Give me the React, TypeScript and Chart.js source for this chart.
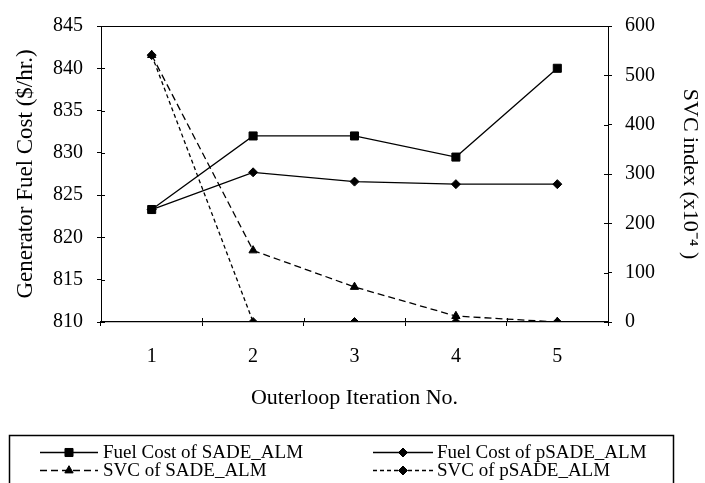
import React, { useEffect, useRef } from "react";
import { Chart, registerables } from "chart.js";

Chart.register(...registerables);

const iterations = ["1", "2", "3", "4", "5"];
const fuelCostSADE = [823.3, 832.0, 832.0, 829.5, 840.0];
const fuelCostPSADE = [823.3, 827.7, 826.6, 826.3, 826.3];
const svcSADE = [541, 145, 71, 12, 0];
const svcPSADE = [541, 0, 0, 0, 0];
const seriesNames = [
  "Fuel Cost of SADE_ALM",
  "Fuel Cost of pSADE_ALM",
  "SVC of SADE_ALM",
  "SVC of pSADE_ALM",
];
const leftTitle = "Generator Fuel Cost ($/hr.)";
const rightTitle = "SVC index (x10\u207B\u2074 )";
const xTitle = "Outerloop Iteration No.";

const SERIF = "'Liberation Serif', 'Times New Roman', serif";
const BLACK = "#000";

function drawMarker(ctx: CanvasRenderingContext2D, style: string, x: number, y: number, r: number) {
  ctx.beginPath();
  if (style === "rect") {
    const s = Math.SQRT1_2 * r;
    ctx.rect(x - s, y - s, 2 * s, 2 * s);
  } else if (style === "rectRot") {
    ctx.moveTo(x, y - r);
    ctx.lineTo(x + r, y);
    ctx.lineTo(x, y + r);
    ctx.lineTo(x - r, y);
    ctx.closePath();
  } else if (style === "triangle") {
    const a = (2 * Math.PI) / 3;
    ctx.moveTo(x, y - r);
    ctx.lineTo(x + Math.sin(a) * r, y - Math.cos(a) * r);
    ctx.lineTo(x + Math.sin(2 * a) * r, y - Math.cos(2 * a) * r);
    ctx.closePath();
  }
  ctx.fill();
  ctx.stroke();
}

const framePlugin = {
  id: "frameAndLegend",
  afterDraw(chart: any) {
    const { ctx } = chart;
    const { left, right, top, bottom } = chart.chartArea;
    const ys = chart.scales.y;
    const y1s = chart.scales.y1;
    const xs = chart.scales.x;
    const al = (v: number) => Math.round(v) + 0.5;
    ctx.save();
    ctx.strokeStyle = BLACK;
    ctx.lineWidth = 1;
    ctx.beginPath();
    ctx.moveTo(left, al(top));
    ctx.lineTo(right, al(top));
    ys.ticks.forEach((t: any) => {
      const py = al(ys.getPixelForValue(t.value));
      ctx.moveTo(left, py);
      ctx.lineTo(left + 4, py);
    });
    y1s.ticks.forEach((t: any) => {
      const py = al(y1s.getPixelForValue(t.value));
      ctx.moveTo(right - 4, py);
      ctx.lineTo(right, py);
    });
    for (let i = 0; i < iterations.length - 1; i++) {
      const px = al((xs.getPixelForValue(i) + xs.getPixelForValue(i + 1)) / 2);
      ctx.moveTo(px, bottom);
      ctx.lineTo(px, bottom - 4);
    }
    ctx.stroke();

    // legend box
    ctx.lineWidth = 1.5;
    ctx.strokeRect(9.5, 435.5, 664, 60);

    const cols = [
      { l0: 40, l1: 98, tx: 103 },
      { l0: 373, l1: 433, tx: 437 },
    ];
    const rows = [452, 470];
    chart.data.datasets.forEach((ds: any, i: number) => {
      const c = cols[i % 2];
      const ry = rows[Math.floor(i / 2)];
      ctx.lineWidth = 1.3;
      ctx.strokeStyle = BLACK;
      ctx.setLineDash(ds.borderDash || []);
      ctx.beginPath();
      ctx.moveTo(c.l0, ry + 0.5);
      ctx.lineTo(c.l1, ry + 0.5);
      ctx.stroke();
      ctx.setLineDash([]);
      ctx.fillStyle = BLACK;
      ctx.lineWidth = 1;
      drawMarker(ctx, ds.pointStyle, (c.l0 + c.l1) / 2, ry + 0.5, ds.pointRadius);
      ctx.font = `19px ${SERIF}`;
      ctx.textBaseline = "middle";
      ctx.textAlign = "left";
      ctx.fillText(seriesNames[i], c.tx, ry + 1);
    });
    ctx.restore();
  },
};

export default function App() {
  const ref = useRef<HTMLCanvasElement | null>(null);

  useEffect(() => {
    if (!ref.current) return;
    const tickFont = { family: SERIF, size: 20 };
    const titleFont = { family: SERIF, size: 22 };
    const leftTitleFont = { family: SERIF, size: 23 };
    const chart = new Chart(ref.current, {
      type: "line",
      data: {
        labels: iterations,
        datasets: [
          {
            label: seriesNames[0],
            data: fuelCostSADE,
            yAxisID: "y",
            borderColor: BLACK,
            backgroundColor: BLACK,
            borderWidth: 1.3,
            pointStyle: "rect",
            pointRadius: 5.7,
            pointBorderWidth: 1,
          },
          {
            label: seriesNames[1],
            data: fuelCostPSADE,
            yAxisID: "y",
            borderColor: BLACK,
            backgroundColor: BLACK,
            borderWidth: 1.3,
            pointStyle: "rectRot",
            pointRadius: 4.5,
            pointBorderWidth: 1,
          },
          {
            label: seriesNames[2],
            data: svcSADE,
            yAxisID: "y1",
            borderColor: BLACK,
            backgroundColor: BLACK,
            borderWidth: 1.3,
            borderDash: [7, 4],
            pointStyle: "triangle",
            pointRadius: 4.8,
            pointBorderWidth: 1,
          },
          {
            label: seriesNames[3],
            data: svcPSADE,
            yAxisID: "y1",
            borderColor: BLACK,
            backgroundColor: BLACK,
            borderWidth: 1.3,
            borderDash: [4, 3],
            pointStyle: "rectRot",
            pointRadius: 4.5,
            pointBorderWidth: 1,
          },
        ],
      },
      options: {
        animation: false,
        responsive: false,
        devicePixelRatio: 1,
        layout: { padding: { top: 18, left: 0, right: 0, bottom: 0 } },
        plugins: { legend: { display: false }, tooltip: { enabled: false } },
        scales: {
          x: {
            type: "category",
            offset: true,
            grid: { offset: true, drawOnChartArea: false, tickLength: 4, color: BLACK, lineWidth: 1 },
            border: { color: BLACK, width: 1.3 },
            ticks: { font: tickFont, color: BLACK, padding: 19, maxRotation: 0 },
            title: { display: true, text: xTitle, font: titleFont, color: BLACK, padding: { top: 0, bottom: 72 } },
            afterFit: (s: any) => {
              s.height = 161;
            },
          },
          y: {
            position: "left",
            min: 810,
            max: 845,
            grid: { drawOnChartArea: false, tickLength: 4, color: BLACK, lineWidth: 1 },
            border: { color: BLACK, width: 1 },
            ticks: { stepSize: 5, font: tickFont, color: BLACK, padding: 14 },
            title: { display: true, text: leftTitle, font: leftTitleFont, color: BLACK, padding: { top: 12, bottom: 0 } },
            afterFit: (s: any) => {
              s.width = 101;
            },
          },
          y1: {
            position: "right",
            min: 0,
            max: 600,
            grid: { drawOnChartArea: false, tickLength: 4, color: BLACK, lineWidth: 1 },
            border: { color: BLACK, width: 1 },
            ticks: { stepSize: 100, font: tickFont, color: BLACK, padding: 13 },
            title: { display: true, text: rightTitle, font: titleFont, color: BLACK, padding: { top: 2, bottom: 0 } },
            afterFit: (s: any) => {
              s.width = 97;
            },
          },
        },
      },
      plugins: [framePlugin],
    } as any);
    return () => chart.destroy();
  }, []);

  return (
    <div style={{ position: "absolute", left: 0, top: 0, width: 705, height: 483, background: "#fff" }}>
      <canvas ref={ref} width={705} height={483} style={{ display: "block", width: 705, height: 483 }} />
    </div>
  );
}
